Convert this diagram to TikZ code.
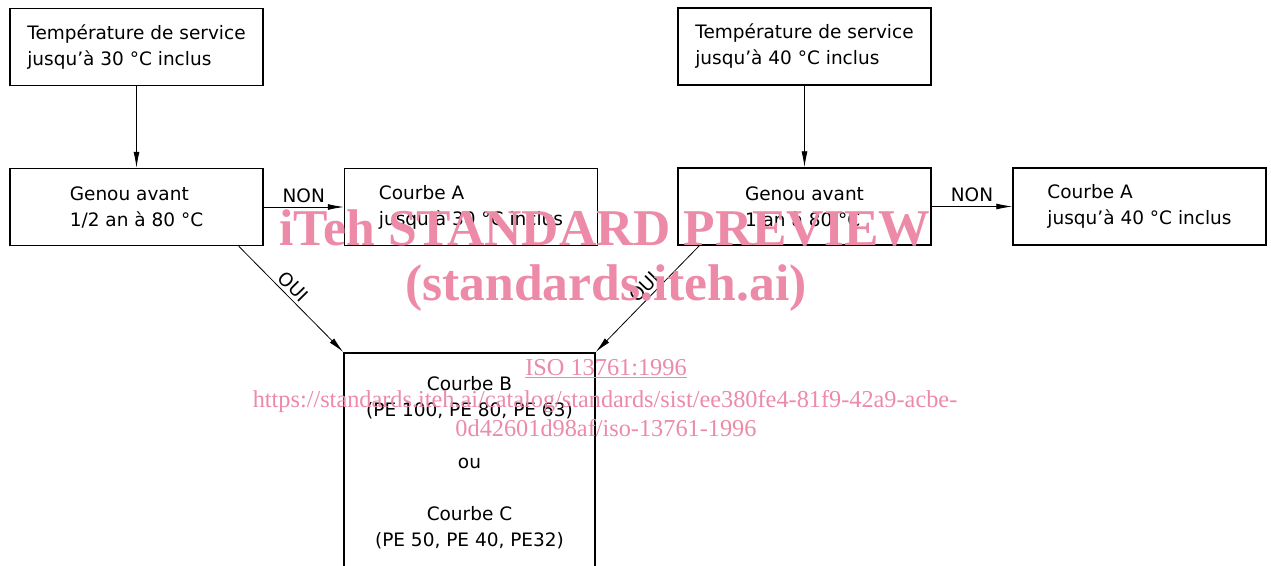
\documentclass[tikz,border=0pt]{standalone}
\usepackage{fontspec}
\setmainfont{DejaVu Sans}
\newfontfamily\wmfont{Liberation Serif}
\usetikzlibrary{arrows.meta,calc,positioning}
\definecolor{wmpink}{RGB}{236,138,168}

\tikzset{
  box/.style={draw, line width=1.5pt, minimum width=253pt, minimum height=77pt, align=left, inner sep=0pt},
  flow/.style={line width=0.8pt, -{Latex[length=16pt,width=6pt]}},
  wm/.style={text=wmpink, inner sep=0pt, anchor=base},
}

\begin{document}
\begin{tikzpicture}[x=1pt,y=-1pt,font=\fontsize{18.5}{26}\selectfont]
  \useasboundingbox (0,0) rectangle (1271,565);
  \node [box] (t30) at (136.5,47) {Température de service\\jusqu’à 30 °C inclus};
  \node [box] (g30) at (136.5,207) {Genou avant\\1/2 an à 80 °C};
  \node [box] (a30) at (471,207) {Courbe A\\jusqu’à 30 °C inclus};
  \node [box] (t40) at (804.5,46.5) {Température de service\\jusqu’à 40 °C inclus};
  \node [box] (g40) at (804.5,206.5) {Genou avant\\1 an à 80 °C};
  \node [box] (a40) at (1139.5,206.5) {Courbe A\\jusqu’à 40 °C inclus};
  \node [box, align=center, minimum width=251pt, minimum height=220pt, anchor=north] (courbes) at (469.5,352)
    {Courbe B\\(PE 100, PE 80, PE 63)\\[26pt]ou\\[26pt]Courbe C\\(PE 50, PE 40, PE32)};
  \coordinate (oui30) at ($(g30.south east)+(-25,0)$);
  \coordinate (oui40) at ($(g40.south west)+(22,0)$);
  \draw [flow] (t30) edge (g30) (t40) edge (g40);
  \draw [flow] (g30) edge node [above, inner sep=4pt] {NON} (a30)
               (g40) edge node [above, inner sep=4pt] {NON} (a40);
  \draw [flow] (oui30) -- node [sloped, above, pos=0.45] {OUI} (courbes.north west);
  \draw [flow] (oui40) -- node [sloped, above, pos=0.46] {OUI} (courbes.north east);
  % watermark
  \node [wm, font=\wmfont\bfseries\fontsize{51.6}{51.6}\selectfont] (wmtitle) at (605,245) {iTeh STANDARD PREVIEW};
  \node [wm, font=\wmfont\bfseries\fontsize{51.6}{51.6}\selectfont] (wmsite) at (606,300) {(standards.iteh.ai)};
  \node [wm, font=\wmfont\fontsize{24.3}{24.3}\selectfont] (wmiso) at (606,375) {\underline{ISO 13761:1996}};
  \node [wm, font=\wmfont\fontsize{24.3}{24.3}\selectfont] (wmurl) at (605,407)
    {https://standards.iteh.ai/catalog/standards/sist/ee380fe4-81f9-42a9-acbe-};
  \node [wm, font=\wmfont\fontsize{24.3}{24.3}\selectfont] (wmid) at (606,436) {0d42601d98af/iso-13761-1996};
\end{tikzpicture}
\end{document}
